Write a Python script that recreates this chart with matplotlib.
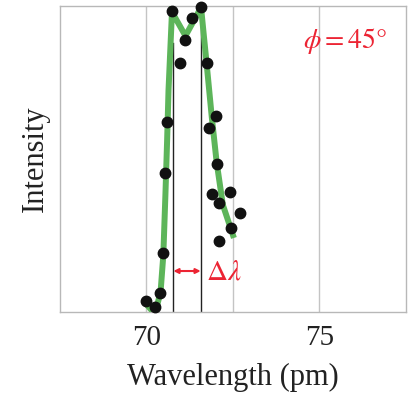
import matplotlib
matplotlib.use("Agg")
import matplotlib.pyplot as plt

plt.rcParams['mathtext.fontset'] = 'stix'

# measured points
pts_x = [69.99, 70.25, 70.39, 70.49, 70.55, 70.60, 70.75, 70.97, 71.13, 71.33, 71.58,
         71.74, 71.81, 72.02, 72.03, 71.91, 72.42, 72.10, 72.70, 72.44, 72.10]
pts_y = [0.037, 0.016, 0.062, 0.194, 0.453, 0.621, 0.984, 0.813, 0.887, 0.960, 0.995,
         0.813, 0.602, 0.641, 0.485, 0.387, 0.392, 0.355, 0.322, 0.275, 0.232]

# fitted curve
curve_x = [69.94, 70.12, 70.29, 70.41, 70.49, 70.55, 70.60, 70.64, 70.74, 71.13,
           71.58, 71.74, 71.89, 72.03, 72.21, 72.53]
curve_y = [0.033, 0.010, 0.013, 0.065, 0.186, 0.382, 0.562, 0.725, 0.980, 0.902,
           0.995, 0.813, 0.637, 0.490, 0.350, 0.242]

peak_x = [70.78, 71.57]
peak_top = [0.88, 0.985]
arrow_y = 0.134

red = '#ec2433'
fig = plt.figure(figsize=(4.10, 3.93), dpi=100)
ax = fig.add_axes([0.146, 0.206, 0.844, 0.779])
ax.set_xlim(67.5, 77.5)
ax.set_ylim(0, 1)

ax.set_xticks([70, 75])
ax.set_xticklabels(['70', '75'], fontfamily='Liberation Serif', fontsize=21)
ax.set_xticks([72.5], minor=True)
ax.set_yticks([])
ax.tick_params(axis='x', which='both', length=0, pad=9, colors='#222222')
ax.grid(True, axis='x', which='both', color='#c4c4c4', lw=1.0)
ax.set_axisbelow(True)
for s in ax.spines.values():
    s.set_color('#b8b8b8')
    s.set_linewidth(1.0)

for px, pt in zip(peak_x, peak_top):
    ax.plot([px, px], [0, pt], color='#222222', lw=1.0, zorder=2)

ax.plot(curve_x, curve_y, color='#5db55a', lw=4.3, solid_joinstyle='miter',
        solid_capstyle='butt', zorder=3)
ax.plot(pts_x, pts_y, 'o', color='#111111', ms=7.5, zorder=4, clip_on=False)

ax.annotate('', xy=(peak_x[0], arrow_y), xytext=(peak_x[1], arrow_y),
            arrowprops=dict(arrowstyle='<|-|>', color=red, lw=1.5,
                            mutation_scale=7, shrinkA=0, shrinkB=0))
ax.text(71.72, arrow_y, r'$\Delta\lambda$', color=red, fontsize=21,
        va='center', ha='left')
ax.text(76.95, 0.885, r'$\phi = 45°$', color=red, fontsize=20,
        va='center', ha='right')

ax.set_xlabel('Wavelength (pm)', fontfamily='Liberation Serif', fontsize=22,
              color='#222222', labelpad=9)
ax.set_ylabel('Intensity', fontfamily='Liberation Serif', fontsize=22,
              color='#222222', labelpad=7)

fig.savefig('out.png', dpi=100)
